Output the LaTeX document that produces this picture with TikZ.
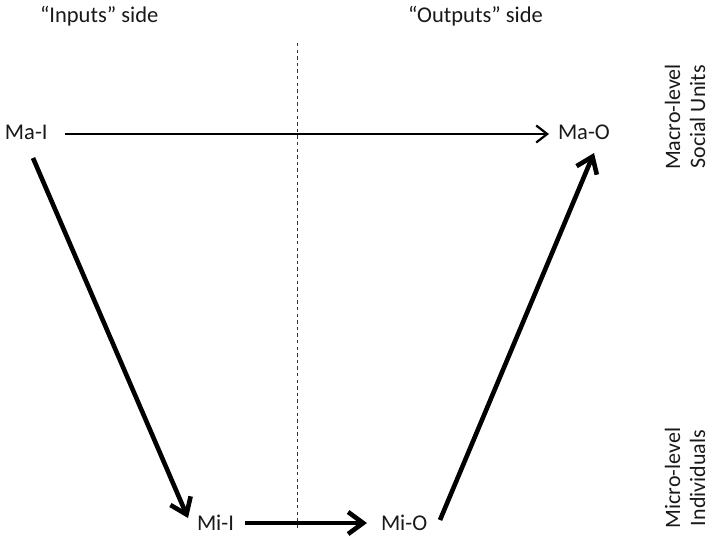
\documentclass[tikz,border=0pt]{standalone}
\usepackage{fontspec}
\setmainfont{Carlito}
\usetikzlibrary{arrows.meta,calc}
\tikzset{
  lbl/.style={inner sep=0pt, outer sep=0pt, font=\fontsize{22.5}{26}\selectfont, text=black!90},
  sidelbl/.style={lbl, rotate=90, align=center, font=\fontsize{22}{25}\selectfont},
  thinarrow/.style={line width=2.2pt, -{Straight Barb[length=11pt,width=17pt,line width=2.2pt]}},
  thickarrow/.style={line width=4.6pt, -{Straight Barb[length=15pt,width=22pt,line width=4.6pt]}},
  divider/.style={dash pattern=on 3.3pt off 3.3pt, line width=0.8pt, black!80}
}
\begin{document}
\begin{tikzpicture}[x=1pt,y=-1pt]
\useasboundingbox[fill=white] (0,0) rectangle (712,536);
\node[lbl, anchor=base west] (inl) at (40,22) {“Inputs” side};
\node[lbl, anchor=base west] (outl) at (408,22) {“Outputs” side};
\coordinate (dtop) at (297,43);
\coordinate (dbot) at (297,528);
\draw[divider] (dtop) -- (dbot);
\node[lbl, anchor=base west] (MaI) at (5,139) {Ma-I};
\node[lbl, anchor=base west] (MaO) at (558,139) {Ma-O};
\node[lbl, anchor=base west] (MiI) at (197,530) {Mi-I};
\node[lbl, anchor=base west] (MiO) at (381,530) {Mi-O};
\node[sidelbl] (macro) at (685,117) {Macro-level\\Social Units};
\node[sidelbl] (micro) at (685,478) {Micro-level\\Individuals};
\draw[thinarrow] ([shift={(60,-5)}]MaI.base west) -- ([shift={(-9,-5)}]MaO.base west);
\draw[thickarrow] ([shift={(28,19)}]MaI.base west) -- ([shift={(-9,-12)}]MiI.base west);
\draw[thickarrow] ([shift={(48,-7)}]MiI.base west) -- ([shift={(-14,-7)}]MiO.base west);
\draw[thickarrow] ([shift={(59,-10)}]MiO.base west) -- ([shift={(36,14)}]MaO.base west);
\end{tikzpicture}
\end{document}
